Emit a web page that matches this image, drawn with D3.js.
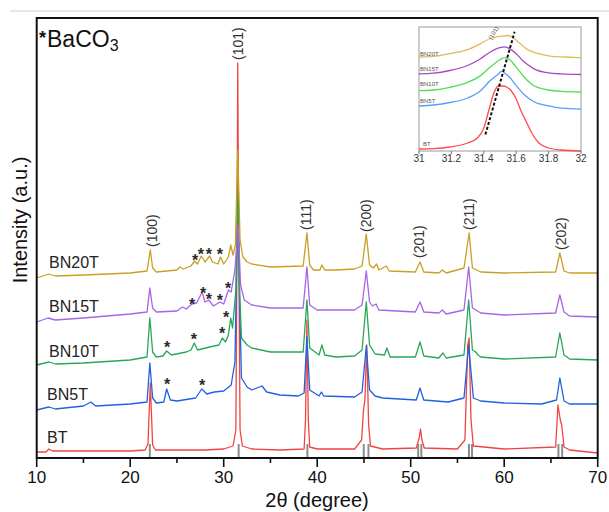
<!DOCTYPE html>
<html><head><meta charset="utf-8">
<script src="https://cdn.jsdelivr.net/npm/d3@7"></script>
<style>body{margin:0;background:#fff} svg{display:block} text{font-family:"Liberation Sans",Arial,sans-serif}</style>
</head><body><svg id="c" width="609" height="512"></svg>
<script>
// ---------------- DATA (2θ in degrees, stacked intensity in a.u.) ----------------
const seriesNames = ["BT", "BN5T", "BN10T", "BN15T", "BN20T"];

const BT = [[10,6],[11,6],[11.3,9],[11.7,7],[15,7],[20,7],[21.6,8],[21.9,14],[22.15,75],[22.4,13],[22.7,8],[25,8],[28,8],[30,9],[31.0,12],[31.3,28],[31.42,208],[31.5,395],[31.6,228],[31.75,28],[32.0,12],[33,9],[36,8],[38.6,9],[38.75,38],[38.9,138],[39.05,38],[39.2,11],[40,9],[44,9],[44.75,18],[44.95,48],[45.1,58],[45.3,113],[45.5,33],[45.7,12],[47,9],[50.6,10],[50.9,20],[51.05,29],[51.2,18],[51.45,10],[55,9],[55.8,18],[56.1,113],[56.25,120],[56.45,38],[56.7,12],[60,9],[65.5,11],[65.75,53],[66.0,38],[66.15,33],[66.4,11],[67,8],[70,5]];

const BN5T = [[10,48],[11.3,51],[12,49],[15,52],[15.8,56],[16.3,52],[20,54],[21.8,56],[22.1,95],[22.4,60],[22.8,55],[23.6,56],[23.9,69],[24.3,58],[25,57],[27,60],[27.65,69],[28.2,64],[29,66],[30,67],[30.8,73],[31.2,96],[31.42,208],[31.55,258],[31.7,158],[31.9,80],[32.5,71],[33,68],[34.1,72],[34.6,66],[36,63],[38,62],[38.6,65],[38.9,121],[39.2,68],[40.2,62],[40.45,66],[40.7,62],[44,61],[44.8,66],[45.25,112],[45.6,68],[46.2,62],[47,60],[50.6,58],[51.0,70],[51.4,58],[54,56],[55.7,60],[56.2,113],[56.7,60],[57.5,57],[60,55],[64,54],[65.6,58],[65.95,80],[66.4,57],[67,54],[70,54]];

const BN10T = [[10,93],[11.3,96],[12,94],[15,95],[20,98],[21.8,101],[22.1,140],[22.4,106],[22.8,101],[23.5,102],[23.9,107],[24.4,103],[26,106],[26.5,108],[26.85,115],[27.2,108],[28.5,111],[29.5,113],[29.85,120],[30.2,116],[30.5,123],[30.75,140],[30.95,130],[31.3,168],[31.5,268],[31.7,168],[31.9,120],[32.5,113],[33,110],[35,106],[38.5,106],[38.9,158],[39.2,110],[40.2,103],[40.5,113],[40.8,103],[42,101],[44,102],[44.8,108],[45.25,156],[45.6,113],[46.2,104],[47.2,103],[47.45,110],[47.8,101],[50.5,101],[51.0,116],[51.4,102],[53,100],[53.45,105],[53.8,100],[55.7,103],[56.2,158],[56.6,108],[56.95,106],[57.2,103],[57.5,101],[60,99],[65.5,101],[65.95,125],[66.4,103],[67,99],[70,98]];

const BN15T = [[10,136],[11.2,140],[12,138],[15,140],[20,144],[21.8,146],[22.1,170],[22.4,150],[22.8,146],[25,147],[25.6,151],[26,149],[26.6,154],[27.1,155],[27.7,166],[28.0,156],[28.4,158],[28.9,152],[29.6,156],[30.0,154],[30.5,168],[30.8,166],[31.2,188],[31.55,233],[31.8,173],[32.2,158],[33,153],[35,150],[38.5,150],[38.9,191],[39.2,153],[40,148],[44,148],[44.8,153],[45.25,187],[45.6,156],[45.9,152],[46.3,154],[46.6,148],[50.5,146],[51.0,156],[51.4,146],[53,145],[53.4,148],[53.8,144],[55.7,148],[56.2,191],[56.6,150],[57.5,145],[60,143],[65.5,145],[65.95,163],[66.4,146],[67,142],[70,141]];

const BN20T = [[10,180],[11.3,184],[12,182],[15,183],[20,185],[21.8,187],[22.15,208],[22.4,190],[22.8,186],[25,188],[25.3,191],[25.7,189],[26.5,192],[26.9,197],[27.2,194],[27.6,202],[28.0,196],[28.5,202],[28.8,196],[29.4,194],[29.65,201],[30.0,194],[30.5,201],[30.75,213],[31.0,203],[31.25,213],[31.5,308],[31.75,218],[32.05,201],[32.5,196],[33,194],[35,191],[38.5,192],[38.9,225],[39.2,193],[39.6,188],[40.3,188],[40.5,193],[40.8,188],[42,188],[44,189],[44.8,192],[45.25,224],[45.6,193],[46.0,190],[46.35,194],[46.6,188],[47.4,192],[47.7,187],[50.5,186],[51.0,196],[51.4,186],[53,185],[53.4,188],[53.8,185],[55.7,190],[56.25,225],[56.6,190],[57.5,186],[60,185],[65.5,186],[65.95,205],[66.4,187],[67,185],[70,185]];

// reference pattern sticks (2θ, intensity)
const refSticks = [[22.1,14],[31.6,14],[38.95,14],[44.98,14],[45.48,14],[50.8,14],[51.14,14],[56.23,14],[56.56,14],[65.8,14],[66.2,14]];

// peak (hkl) labels: text, 2θ, intensity at label foot
const peakLabels = [["(100)",22.3,211],["(101)",31.5,398],["(111)",38.85,228],["(200)",45.25,226],["(201)",50.9,200],["(211)",56.25,228],["(202)",66.05,208]];

// BaCO3 markers: series, 2θ, intensity
const baco3Marks = [
  ["BN20T",26.93,201],["BN20T",27.57,207],["BN20T",28.42,207],["BN20T",29.6,207],
  ["BN15T",26.61,157],["BN15T",27.79,168],["BN15T",28.42,162],["BN15T",29.6,161],["BN15T",30.46,173],
  ["BN10T",23.94,114],["BN10T",26.82,122],["BN10T",29.82,128],["BN10T",30.25,144],
  ["BN5T",23.94,77],["BN5T",27.68,76]];

// series label intensities (baseline of text)
const seriesLabelY = [15, 58, 101, 146, 190];

const xTicks = [10,20,30,40,50,60,70];
const xMinorTicks = [15,25,35,45,55,65];

// inset: (101) peak zoom
const insetBT = [[31.0,2],[31.09,2.4],[31.19,4],[31.3,8],[31.36,13],[31.4,23],[31.43,40],[31.46,57],[31.49,65],[31.52,65],[31.54,64],[31.57,60],[31.6,52],[31.63,40],[31.66,30],[31.7,17],[31.74,8],[31.8,3],[31.88,1],[32.0,0]];
const insetBN5T = [[31.0,45],[31.09,46],[31.19,48.5],[31.3,53],[31.38,60.3],[31.44,70.4],[31.49,77.1],[31.51,79.8],[31.53,77.8],[31.56,73.8],[31.6,65.3],[31.65,56.3],[31.71,49.2],[31.8,45.1],[31.88,42.8],[32.0,41.8]];
const insetBN10T = [[31.0,60.3],[31.09,61],[31.19,63.7],[31.3,68.7],[31.38,75.4],[31.44,83.9],[31.5,91.3],[31.53,93.3],[31.56,91.3],[31.6,83.9],[31.65,73.8],[31.71,65.3],[31.8,61],[31.88,59.6],[32.0,59]];
const insetBN15T = [[31.0,77.1],[31.09,77.8],[31.19,80.5],[31.3,85.5],[31.38,92.3],[31.44,99],[31.5,103.4],[31.53,104.1],[31.56,102.4],[31.6,97.3],[31.65,88.9],[31.71,82.2],[31.8,78.1],[31.88,77.1],[32.0,76.5]];
const insetBN20T = [[31.0,94],[31.09,94.6],[31.19,97.3],[31.3,101.4],[31.38,107.4],[31.44,112.5],[31.51,114.8],[31.55,115.5],[31.58,113.5],[31.62,108.1],[31.67,101.4],[31.74,97.3],[31.82,94.6],[31.9,94],[32.0,93.3]];
const insetLabelY = [5, 48, 65, 80, 95];
const insetShift = [[31.41,16.5],[31.59,119.2]];
const insetTicks = [31,31.2,31.4,31.6,31.8,32];
const insetTickLabels = ["31","31.2","31.4","31.6","31.8","32"];

// ---------------- DRAWING ----------------
const svg = d3.select("#c");
const mainData = [BT, BN5T, BN10T, BN15T, BN20T];
const insetData = [insetBT, insetBN5T, insetBN10T, insetBN15T, insetBN20T];
const colors = ["#f04444", "#1f62e0", "#2aa55a", "#a764e6", "#c9a022"];
const insetColors = ["#ff4a4a", "#5b9bff", "#4fe04f", "#a648bd", "#e8b85a"];

const x = d3.scaleLinear().domain([10, 70]).range([36.7, 597.7]);
const y = d3.scaleLinear().domain([0, 441]).range([458, 17]);

// top separator line
svg.append("line").attr("x1", 10).attr("x2", 609).attr("y1", 11).attr("y2", 11)
  .attr("stroke", "#cfcfcf").attr("stroke-width", 1);

// reference sticks
svg.append("g").selectAll("line").data(refSticks).join("line")
  .attr("x1", d => x(d[0])).attr("x2", d => x(d[0]))
  .attr("y1", y(0)).attr("y2", d => y(d[1]))
  .attr("stroke", "#8c8c8c").attr("stroke-width", 2);

const line = d3.line().x(d => x(d[0])).y(d => y(d[1]));
svg.append("g").selectAll("path").data(mainData).join("path")
  .attr("d", line).attr("fill", "none")
  .attr("stroke", (d, i) => colors[i]).attr("stroke-width", 1.3)
  .attr("stroke-linejoin", "round");

// series labels
svg.append("g").selectAll("text").data(seriesNames).join("text")
  .attr("x", (d, i) => i <= 1 ? 47 : 49)
  .attr("y", (d, i) => y(seriesLabelY[i]))
  .attr("font-size", 16).attr("fill", "#222").text(d => d);

// BaCO3 asterisks
svg.append("g").selectAll("text").data(baco3Marks).join("text")
  .attr("x", d => x(d[1])).attr("y", d => y(d[2])).attr("dy", "0.55em")
  .attr("text-anchor", "middle").attr("font-size", 16).attr("font-weight", "bold")
  .attr("fill", "#2a2a2a").text("*");

// peak labels
svg.append("g").selectAll("text").data(peakLabels).join("text")
  .attr("transform", d => `translate(${x(d[1])},${y(d[2])}) rotate(-90)`)
  .attr("dy", "0.35em").attr("font-size", 14).attr("fill", "#333").text(d => d[0]);

// frame
svg.append("rect").attr("x", 36.7).attr("y", 18).attr("width", 561).attr("height", 440)
  .attr("fill", "none").attr("stroke", "#111").attr("stroke-width", 2);

// x axis ticks
const ax = svg.append("g");
ax.selectAll("line.maj").data(xTicks).join("line").attr("class", "maj")
  .attr("x1", d => x(d)).attr("x2", d => x(d)).attr("y1", 458).attr("y2", 467)
  .attr("stroke", "#111").attr("stroke-width", 1.6);
ax.selectAll("line.min").data(xMinorTicks).join("line").attr("class", "min")
  .attr("x1", d => x(d)).attr("x2", d => x(d)).attr("y1", 458).attr("y2", 463)
  .attr("stroke", "#111").attr("stroke-width", 1.6);
ax.selectAll("text").data(xTicks).join("text")
  .attr("x", d => x(d)).attr("y", 483).attr("text-anchor", "middle")
  .attr("font-size", 17).attr("fill", "#111").text(d => d);

svg.append("text").attr("x", 317).attr("y", 507).attr("text-anchor", "middle")
  .attr("font-size", 20).attr("fill", "#111").text("2θ (degree)");
svg.append("text").attr("transform", "translate(27,220) rotate(-90)")
  .attr("text-anchor", "middle").attr("font-size", 20).attr("fill", "#111").text("Intensity (a.u.)");

// BaCO3 legend text
svg.append("text").attr("x", 42.5).attr("y", 34.5).attr("dy", "0.55em").attr("text-anchor", "middle")
  .attr("font-size", 18).attr("font-weight", "bold").attr("fill", "#111").text("*");
const bt = svg.append("text").attr("x", 47).attr("y", 47).attr("font-size", 23).attr("fill", "#111");
bt.append("tspan").text("BaCO");
bt.append("tspan").attr("font-size", 16).attr("dy", 4).text("3");

// ---------------- INSET ----------------
const ix = d3.scaleLinear().domain([31, 32]).range([419, 581]);
const iy = d3.scaleLinear().domain([0, 124]).range([151, 27]);
const ig = svg.append("g");
ig.append("rect").attr("x", 419).attr("y", 27).attr("width", 162).attr("height", 124)
  .attr("fill", "#fff").attr("stroke", "#9a9a9a").attr("stroke-width", 1);
const iline = d3.line().x(d => ix(d[0])).y(d => iy(d[1])).curve(d3.curveMonotoneX);
ig.selectAll("path.s").data(insetData).join("path").attr("class", "s")
  .attr("d", iline).attr("fill", "none")
  .attr("stroke", (d, i) => insetColors[i]).attr("stroke-width", 1.3);
ig.append("path").attr("d", d3.line().x(d => ix(d[0])).y(d => iy(d[1]))(insetShift))
  .attr("stroke", "#111").attr("stroke-width", 2).attr("stroke-dasharray", "3,2").attr("fill", "none");
ig.selectAll("line.t").data(insetTicks).join("line").attr("class", "t")
  .attr("x1", d => ix(d)).attr("x2", d => ix(d)).attr("y1", 151).attr("y2", 154)
  .attr("stroke", "#777").attr("stroke-width", 1);
ig.selectAll("text.tl").data(insetTickLabels).join("text").attr("class", "tl")
  .attr("x", (d, i) => ix(insetTicks[i])).attr("y", 162).attr("text-anchor", "middle")
  .attr("font-family", "Liberation Serif, serif").attr("font-size", 10).attr("fill", "#333").text(d => d);
ig.selectAll("text.sl").data(seriesNames).join("text").attr("class", "sl")
  .attr("x", (d, i) => i === 0 ? 423 : 420).attr("y", (d, i) => iy(insetLabelY[i]))
  .attr("font-family", "Liberation Serif, serif").attr("font-size", 6).attr("fill", "#555").text(d => d);
ig.append("text").attr("transform", `translate(${ix(31.46)},${iy(118)}) rotate(-60)`)
  .attr("text-anchor", "middle").attr("dy", "0.35em")
  .attr("font-family", "Liberation Serif, serif").attr("font-size", 6).attr("fill", "#555").text("(101)");
</script></body></html>
